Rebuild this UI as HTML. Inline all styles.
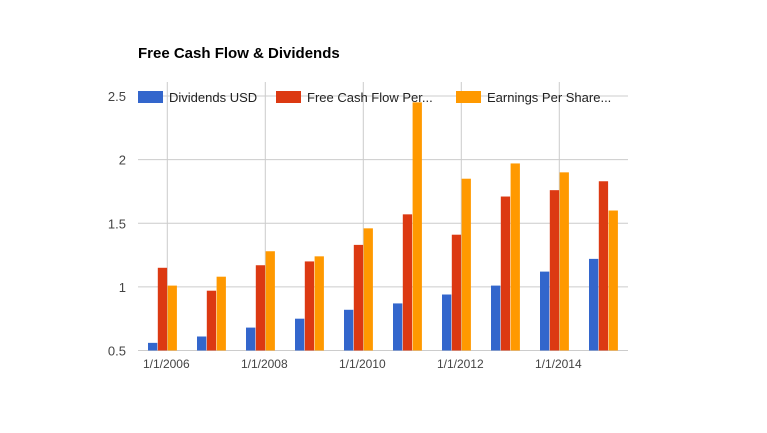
<!DOCTYPE html>
<html><head><meta charset="utf-8"><style>
body{margin:0;background:#fff;}
svg{display:block;font-family:"Liberation Sans",Arial,sans-serif;}
</style></head><body>
<svg width="767" height="433">
<text x="138" y="58" font-size="15" font-weight="bold" fill="#000">Free Cash Flow &amp; Dividends</text>
<g id="grid"></g><g id="bars"></g><g id="labels"></g>
<g id="legend">
<rect x="138" y="91" width="25" height="12" fill="#3366cc"/>
<text x="169" y="102" font-size="13" fill="#222">Dividends USD</text>
<rect x="276" y="91" width="25" height="12" fill="#dc3912"/>
<text x="307" y="102" font-size="13" fill="#222">Free Cash Flow Per...</text>
<rect x="456" y="91" width="25" height="12" fill="#ff9900"/>
<text x="487" y="102" font-size="13" fill="#222">Earnings Per Share...</text>
</g>
</svg>
<script>
const years = [2006,2007,2008,2009,2010,2011,2012,2013,2014,2015];
const dividends = [0.56,0.61,0.68,0.75,0.82,0.87,0.94,1.01,1.12,1.22];
const fcf = [1.15,0.97,1.17,1.20,1.33,1.57,1.41,1.71,1.76,1.83];
const eps = [1.01,1.08,1.28,1.24,1.46,2.45,1.85,1.97,1.90,1.60];
const yTicks = [0.5,1,1.5,2,2.5];
const xTickLabels = ["1/1/2006","1/1/2008","1/1/2010","1/1/2012","1/1/2014"];
const xTickYears = [2006,2008,2010,2012,2014];
const NS="http://www.w3.org/2000/svg";
const X0=138,X1=628;
function yScale(v){return 350.5-(v-0.5)*127.25;}
function xCenter(yr){return 162.5+(yr-2006)*49;}
function xGrid(yr){return 167.3+(yr-2006)*49;}
function mk(t,a,p){const e=document.createElementNS(NS,t);for(const k in a)e.setAttribute(k,a[k]);p.appendChild(e);return e;}
const grid=document.getElementById('grid'),bars=document.getElementById('bars'),labels=document.getElementById('labels');
yTicks.forEach(v=>{
 const l=mk('line',{x1:X0,x2:X1,y1:yScale(v),y2:yScale(v),stroke:'#ccc','stroke-width':1},grid);
 
 
 const t=mk('text',{x:126,y:yScale(v)+5,'text-anchor':'end','font-size':13,fill:'#444'},labels);
 t.textContent=String(v);
 
 
});
xTickYears.forEach((yr,i)=>{
 const l=mk('line',{x1:xGrid(yr),x2:xGrid(yr),y1:82,y2:350.5,stroke:'#ccc','stroke-width':1},grid);
 
 
 const t=mk('text',{x:xGrid(yr)-1,y:368,'text-anchor':'middle','font-size':12,fill:'#444'},labels);
 t.textContent=xTickLabels[i];
 
 
});
const series=[[dividends,'#3366cc','dividends'],[fcf,'#dc3912','fcf'],[eps,'#ff9900','eps']];
const bw=9.3,gap=0.5;
years.forEach((yr,i)=>{
 series.forEach((s,j)=>{
  const x=xCenter(yr)-14.5+j*(bw+gap);
  const y=yScale(s[0][i]);
  const r=mk('rect',{x:x,y:y,width:bw,height:350.5-y,fill:s[1]},bars);
  
  
 });
});
</script>
</body></html>
